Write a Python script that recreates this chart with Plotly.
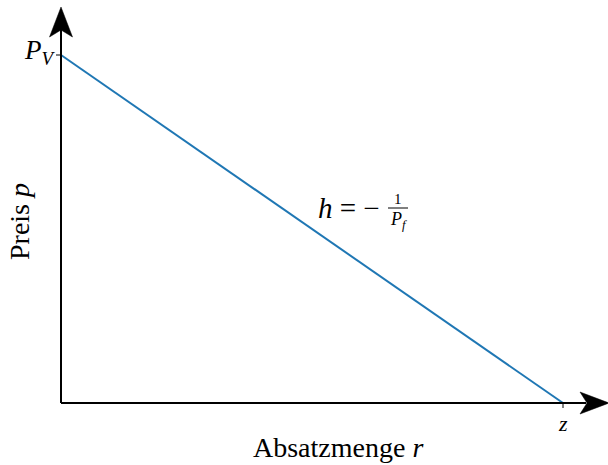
import plotly.graph_objects as go

# Linear price-sales relation: from (0, P_V) down to (z, 0)
sales_r = [0.0, 1.0]      # Absatzmenge r, with z = 1
price_p = [1.0, 0.0]      # Preis p, with P_V = 1
tick_x_labels = ["<i>z</i>"]
tick_y_labels = ["<i>P</i><sub><i>V</i></sub>"]

W, H = 608, 465
OX, OY = 61, 403          # pixel position of the origin
z = sales_r[-1]
pv = price_p[0]

# pixel scale: z sits at x=563, P_V at y=55
sx = (563 - OX) / z
sy = (OY - 55) / pv
x_rng = [-OX / sx, (W - OX) / sx]
y_rng = [-(H - OY) / sy, OY / sy]


def X(px):
    """pixel column -> data x"""
    return (px - OX) / sx


def Y(py):
    """pixel row -> data y"""
    return (OY - py) / sy


SERIF = "'Liberation Serif', 'DejaVu Serif', serif"

fig = go.Figure()
fig.add_trace(go.Scatter(x=sales_r, y=price_p, mode="lines",
                         line=dict(color="#1f77b4", width=2),
                         hoverinfo="skip", showlegend=False))

shapes = []
# axes lines
shapes.append(dict(type="line", xref="x", yref="y", x0=0, y0=0, x1=0, y1=Y(30),
                   line=dict(color="black", width=2)))
shapes.append(dict(type="line", xref="x", yref="y", x0=0, y0=0, x1=X(586), y1=0,
                   line=dict(color="black", width=2)))
# arrowheads (stealth style)
shapes.append(dict(type="path", xref="x", yref="y",
                   path=(f"M 0 {Y(7)} L {X(49.5)} {Y(37)} L 0 {Y(30)} "
                         f"L {X(72.5)} {Y(37)} Z"),
                   fillcolor="black", line=dict(color="black", width=0.5)))
shapes.append(dict(type="path", xref="x", yref="y",
                   path=(f"M {X(609)} 0 L {X(580)} {Y(392)} L {X(587)} 0 "
                         f"L {X(580)} {Y(414)} Z"),
                   fillcolor="black", line=dict(color="black", width=0.5)))
# ticks
shapes.append(dict(type="line", xref="x", yref="y", x0=X(56), y0=pv, x1=0, y1=pv,
                   line=dict(color="black", width=1)))
shapes.append(dict(type="line", xref="x", yref="y", x0=z, y0=0, x1=z, y1=Y(408),
                   line=dict(color="black", width=1)))

# fraction bar for the slope label
fx0, fx1, fy = X(388), X(408), Y(208)
shapes.append(dict(type="line", xref="x", yref="y", x0=fx0, y0=fy, x1=fx1, y1=fy,
                   line=dict(color="black", width=1)))

ann = []
ann.append(dict(x=X(58), y=Y(52), xref="x", yref="y", text=tick_y_labels[0],
                showarrow=False, xanchor="right", yanchor="middle",
                font=dict(family=SERIF, size=27, color="black")))
ann.append(dict(x=z, y=Y(423), xref="x", yref="y", text=tick_x_labels[0],
                showarrow=False, xanchor="center", yanchor="middle",
                font=dict(family=SERIF, size=22, color="black")))
ann.append(dict(x=X(382), y=Y(208), xref="x", yref="y",
                text="<i>h</i> = −", showarrow=False, xanchor="right", yanchor="middle",
                font=dict(family=SERIF, size=29, color="black")))
ann.append(dict(x=(fx0 + fx1) / 2, y=Y(199), xref="x", yref="y", text="1",
                showarrow=False, xanchor="center", yanchor="middle",
                font=dict(family=SERIF, size=15, color="black")))
ann.append(dict(x=(fx0 + fx1) / 2, y=Y(220), xref="x", yref="y",
                text="<i>P</i><sub><i>f</i></sub>", showarrow=False,
                xanchor="center", yanchor="middle",
                font=dict(family=SERIF, size=18, color="black")))
ann.append(dict(x=X(338), y=Y(447), xref="x", yref="y",
                text="Absatzmenge <i>r</i>", showarrow=False,
                xanchor="center", yanchor="middle",
                font=dict(family=SERIF, size=28, color="black")))
ann.append(dict(x=X(19), y=Y(222), xref="x", yref="y",
                text="Preis <i>p</i>", showarrow=False, textangle=-90,
                xanchor="center", yanchor="middle",
                font=dict(family=SERIF, size=28, color="black")))

fig.update_layout(
    width=W, height=H,
    margin=dict(l=0, r=0, t=0, b=0, pad=0),
    paper_bgcolor="white", plot_bgcolor="white",
    xaxis=dict(range=x_rng, visible=False, fixedrange=True, domain=[0, 1]),
    yaxis=dict(range=y_rng, visible=False, fixedrange=True, domain=[0, 1]),
    shapes=shapes, annotations=ann, showlegend=False,
)
fig.write_html("out.html", config={"displayModeBar": False})
